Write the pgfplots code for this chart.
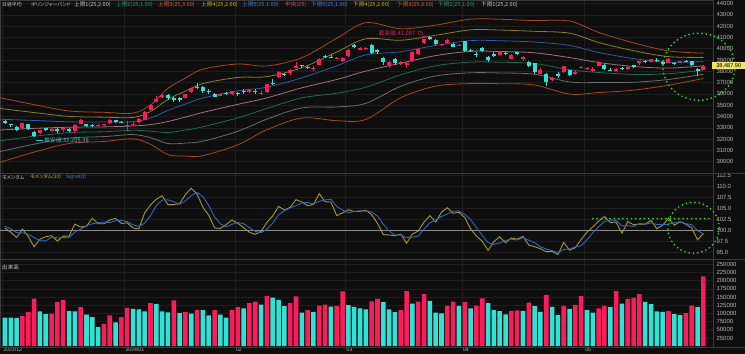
\documentclass[border=0pt]{standalone}
\usepackage{pgfplots}
\pgfplotsset{compat=1.18}
\usepackage{fontspec}
\setmainfont{Liberation Sans}
\newfontfamily\jp[RawFeature=+palt]{Noto Sans CJK JP}
\definecolor{bgc}{HTML}{0E0E0E}
\definecolor{gridc}{HTML}{1E1E1E}
\definecolor{sepc}{HTML}{3A3A3A}
\definecolor{tickc}{HTML}{B4B4B4}
\definecolor{upc}{HTML}{FF1A5A}
\definecolor{dnc}{HTML}{2EE3D6}
\definecolor{bor}{HTML}{A8461C}
\definecolor{bol}{HTML}{8C7E22}
\definecolor{bbl}{HTML}{2C5AA6}
\definecolor{bpk}{HTML}{A86C80}
\definecolor{btl}{HTML}{1D6A52}
\definecolor{bgy}{HTML}{6A6A6E}
\definecolor{momc}{HTML}{A89A22}
\definecolor{sigc}{HTML}{2E66CC}
\definecolor{gdot}{HTML}{22DD22}
\definecolor{tagc}{HTML}{F2E36A}
\definecolor{lgw}{HTML}{C8C8C8}
\definecolor{lgt}{HTML}{1FA07A}
\definecolor{lgo}{HTML}{E0601E}
\definecolor{lgy}{HTML}{C8B42A}
\definecolor{lgb}{HTML}{3C82E6}
\definecolor{lgp}{HTML}{E6466E}
\definecolor{hic}{HTML}{D8245A}
\definecolor{loc}{HTML}{3AB8C0}
\definecolor{hundc}{HTML}{8C8C8C}
\tikzset{
  gdots/.style={gdot, line width=1.9bp, line cap=round, dash pattern=on 0bp off 4.3bp},
  band/.style={line width=0.8bp, smooth, tension=0.55},
  hdr/.style={anchor=west, inner sep=0pt, font=\jp\fontsize{5.6}{6.5}\selectfont},
  hds/.style={anchor=west, inner sep=0pt, font=\jp\fontsize{4.9}{6}\selectfont},
}
\pgfplotsset{
  panel/.style={
    scale only axis, width=713bp,
    xmin=-0.859, xmax=121.65,
    axis background/.style={fill=bgc},
    axis line style={color=sepc, line width=0.7bp},
    xtick={-0.5,20.5,39.5,58.5,78.5,99.5},
    major tick length=0pt,
    xmajorgrids, ymajorgrids,
    major grid style={color=gridc, line width=0.5bp},
    yticklabel pos=right,
    scaled y ticks=false,
    yticklabel style={font=\fontsize{6}{7}\selectfont, text=tickc, anchor=west},
    /pgf/number format/fixed,
    /pgf/number format/assume math mode=true,
    /pgf/number format/1000 sep={},
    unbounded coords=jump,
  },
}
\begin{document}
\begin{tikzpicture}
\useasboundingbox (0,0) rectangle (745bp,354bp);
\fill[bgc] (0,0) rectangle (745bp,354bp);
% ---------------- main price panel
\begin{axis}[panel, at={(0bp,181bp)}, anchor=south west, height=173bp,
  ymin=29000, ymax=44309.7, ytick={30000,31000,...,44000}, xticklabels={}]
\addplot[bor, band] coordinates {(-1,35680)(5,35050)(11,34490)(17,34370)(22,34300)(25,35020)(28,36491)(31,37400)(34,38188)(40,38646)(45,38473)(51,39204)(57,40919)(62,42300)(68,41765)(74,42088)(80,42615)(85,42603)(91,42488)(97,42450)(102,41440)(108,40521)(114,39806)(120,39604)};
\addplot[bol, band] coordinates {(-1,34720)(5,34350)(11,34010)(17,33940)(22,33920)(25,34440)(28,35514)(31,36250)(34,36913)(40,37455)(45,37532)(51,38315)(57,39704)(62,40873)(68,40748)(74,41188)(80,41665)(85,41653)(91,41538)(97,41372)(102,40553)(108,39823)(114,39300)(120,39231)};
\addplot[bbl, band] coordinates {(-1,33760)(5,33650)(11,33530)(17,33510)(22,33540)(25,33860)(28,34537)(31,35100)(34,35638)(40,36264)(45,36591)(51,37426)(57,38489)(62,39446)(68,39731)(74,40288)(80,40715)(85,40703)(91,40588)(97,40294)(102,39666)(108,39125)(114,38794)(120,38858)};
\addplot[bpk, band] coordinates {(-1,32800)(5,32950)(11,33050)(17,33080)(22,33160)(25,33280)(28,33560)(31,33950)(34,34363)(40,35073)(45,35650)(51,36537)(57,37274)(62,38019)(68,38714)(74,39388)(80,39765)(85,39753)(91,39638)(97,39216)(102,38779)(108,38427)(114,38288)(120,38485)};
\addplot[btl, band] coordinates {(-1,31840)(5,32250)(11,32570)(17,32650)(22,32780)(25,32700)(28,32583)(31,32800)(34,33088)(40,33882)(45,34709)(51,35648)(57,36059)(62,36592)(68,37697)(74,38488)(80,38815)(85,38803)(91,38688)(97,38138)(102,37892)(108,37729)(114,37782)(120,38112)};
\addplot[bgy, band] coordinates {(-1,30880)(5,31550)(11,32090)(17,32220)(22,32400)(25,32120)(28,31606)(31,31650)(34,31813)(40,32691)(45,33768)(51,34759)(57,34844)(62,35165)(68,36680)(74,37588)(80,37865)(85,37853)(91,37738)(97,37060)(102,37005)(108,37031)(114,37276)(120,37739)};
\addplot[bor, band] coordinates {(-1,29920)(5,30850)(11,31610)(17,31790)(22,32020)(25,31540)(28,30629)(31,30500)(34,30538)(40,31500)(45,32827)(51,33870)(57,33629)(62,33738)(68,35663)(74,36688)(80,36915)(85,36903)(91,36788)(97,35982)(102,36118)(108,36333)(114,36770)(120,37366)};
% red candles: wicks and bodies
\addplot[upc, line width=0.8bp] coordinates {(3,32900)(3,33450)(3,nan)(6,32450)(6,32820)(6,nan)(8,32700)(8,33000)(8,nan)(10,32650)(10,33000)(10,nan)(12,32500)(12,33300)(12,nan)(13,33300)(13,33750)(13,nan)(16,33150)(16,33300)(16,nan)(17,33200)(17,33350)(17,nan)(18,33380)(18,33750)(18,nan)(21,32690)(21,33570)(21,nan)(22,33200)(22,33500)(22,nan)(23,33450)(23,33900)(23,nan)(24,33650)(24,34500)(24,nan)(25,34550)(25,35100)(25,nan)(26,35250)(26,35850)(26,nan)(27,35600)(27,36000)(27,nan)(31,35600)(31,36000)(31,nan)(32,36100)(32,36550)(32,nan)(37,35800)(37,36100)(37,nan)(39,35900)(39,36300)(39,nan)(42,36100)(42,36450)(42,nan)(44,35900)(44,36250)(44,nan)(45,36100)(45,36900)(45,nan)(47,37400)(47,38000)(47,nan)(49,37700)(49,38200)(49,nan)(50,38300)(50,38800)(50,nan)(53,38000)(53,38500)(53,nan)(54,38550)(54,39150)(54,nan)(57,39100)(57,39300)(57,nan)(58,38850)(58,39250)(58,nan)(59,39300)(59,39990)(59,nan)(61,39850)(61,40150)(61,nan)(62,39900)(62,40150)(62,nan)(66,38300)(66,38900)(66,nan)(68,38600)(68,38900)(68,nan)(69,38300)(69,38800)(69,nan)(70,38850)(70,39800)(70,nan)(71,39450)(71,40050)(71,nan)(72,40400)(72,40820)(72,nan)(75,40200)(75,40450)(75,nan)(76,40450)(76,40900)(76,nan)(78,40200)(78,40450)(78,nan)(85,39400)(85,39800)(85,nan)(87,39050)(87,39500)(87,nan)(89,38950)(89,39350)(89,nan)(92,37750)(92,38250)(92,nan)(94,37100)(94,37500)(94,nan)(96,37850)(96,38500)(96,nan)(98,37700)(98,38000)(98,nan)(99,38250)(99,38500)(99,nan)(100,38100)(100,38400)(100,nan)(101,37900)(101,38400)(101,nan)(102,38500)(102,38900)(102,nan)(105,38000)(105,38300)(105,nan)(107,38150)(107,38450)(107,nan)(109,38600)(109,38950)(109,nan)(111,38800)(111,39100)(111,nan)(114,38700)(114,39150)(114,nan)(116,38700)(116,38950)(116,nan)(120,38100)(120,38520)};
\addplot[upc, line width=4bp] coordinates {(3,32950)(3,33445)(3,nan)(6,32500)(6,32791)(6,nan)(8,32750)(8,32926)(8,nan)(10,32800)(10,32970)(10,nan)(12,32750)(12,33219)(12,nan)(13,33350)(13,33675)(13,nan)(16,33200)(16,33255)(16,nan)(17,33260)(17,33305)(17,nan)(18,33400)(18,33681)(18,nan)(21,33190)(21,33288)(21,nan)(22,33320)(22,33377)(22,nan)(23,33500)(23,33763)(23,nan)(24,33700)(24,34441)(24,nan)(25,34600)(25,35049)(25,nan)(26,35300)(26,35577)(26,nan)(27,35700)(27,35901)(27,nan)(31,35650)(31,35963)(31,nan)(32,36150)(32,36546)(32,nan)(37,35800)(37,36026)(37,nan)(39,35950)(39,36286)(39,nan)(42,36200)(42,36354)(42,nan)(44,36050)(44,36119)(44,nan)(45,36200)(45,36863)(45,nan)(47,37500)(47,37963)(47,nan)(49,37850)(49,38157)(49,nan)(50,38300)(50,38487)(50,nan)(53,38200)(53,38262)(53,nan)(54,38600)(54,39098)(54,nan)(57,39170)(57,39208)(57,nan)(58,38900)(58,39166)(58,nan)(59,39350)(59,39910)(59,nan)(61,39900)(61,40097)(61,nan)(62,39950)(62,40090)(62,nan)(66,38600)(66,38797)(66,nan)(68,38650)(68,38807)(68,nan)(69,38550)(69,38707)(69,nan)(70,38900)(70,39740)(70,nan)(71,39500)(71,40003)(71,nan)(72,40500)(72,40815)(72,nan)(75,40300)(75,40398)(75,nan)(76,40500)(76,40762)(76,nan)(78,40300)(78,40369)(78,nan)(85,39450)(85,39773)(85,nan)(87,39100)(87,39442)(87,nan)(89,39050)(89,39232)(89,nan)(92,37800)(92,38079)(92,nan)(94,37250)(94,37438)(94,nan)(96,37900)(96,38460)(96,nan)(98,37800)(98,37934)(98,nan)(99,38300)(99,38405)(99,nan)(100,38200)(100,38274)(100,nan)(101,38000)(101,38236)(101,nan)(102,38500)(102,38835)(102,nan)(105,38050)(105,38229)(105,nan)(107,38200)(107,38356)(107,nan)(109,38700)(109,38920)(109,nan)(111,38850)(111,39069)(111,nan)(114,38750)(114,39103)(114,nan)(116,38800)(116,38900)(116,nan)(120,38150)(120,38487)};
% cyan candles
\addplot[dnc, line width=0.8bp] coordinates {(0,33350)(0,33680)(0,nan)(1,33060)(1,33330)(1,nan)(2,32700)(2,33120)(2,nan)(4,32800)(4,33380)(4,nan)(5,32205)(5,32700)(5,nan)(7,32700)(7,33000)(7,nan)(9,32500)(9,32950)(9,nan)(11,32600)(11,32950)(11,nan)(14,33100)(14,33350)(14,nan)(15,33050)(15,33300)(15,nan)(19,33450)(19,33700)(19,nan)(20,33400)(20,33600)(20,nan)(28,35500)(28,36000)(28,nan)(29,35300)(29,35700)(29,nan)(30,35300)(30,35700)(30,nan)(33,36400)(33,36980)(33,nan)(34,36050)(34,36700)(34,nan)(35,36000)(35,36400)(35,nan)(36,35700)(36,36100)(36,nan)(38,35900)(38,36200)(38,nan)(40,35800)(40,36150)(40,nan)(41,36000)(41,36400)(41,nan)(43,36000)(43,36400)(43,nan)(46,36800)(46,37300)(46,nan)(48,37600)(48,37850)(48,nan)(51,38300)(51,38600)(51,nan)(52,38200)(52,38500)(52,nan)(55,39150)(55,39400)(55,nan)(56,39150)(56,39400)(56,nan)(60,40100)(60,40400)(60,nan)(63,39550)(63,40450)(63,nan)(64,39500)(64,39950)(64,nan)(65,38600)(65,39300)(65,nan)(67,38550)(67,39150)(67,nan)(73,40800)(73,41088)(73,nan)(74,40300)(74,40850)(74,nan)(77,40150)(77,40500)(77,nan)(79,39750)(79,40700)(79,nan)(80,39750)(80,39950)(80,nan)(81,39300)(81,39700)(81,nan)(82,39700)(82,40150)(82,nan)(83,38800)(83,39350)(83,nan)(84,39300)(84,39700)(84,nan)(86,39450)(86,39700)(86,nan)(88,39450)(88,39750)(88,nan)(90,38350)(90,38900)(90,nan)(91,37800)(91,38750)(91,nan)(93,36733)(93,37850)(93,nan)(95,37450)(95,37900)(95,nan)(97,37550)(97,38150)(97,nan)(103,38150)(103,38650)(103,nan)(104,38000)(104,38250)(104,nan)(106,38100)(106,38400)(106,nan)(108,38300)(108,38600)(108,nan)(110,38700)(110,39000)(110,nan)(112,38850)(112,39150)(112,nan)(113,38550)(113,38900)(113,nan)(115,38550)(115,38800)(115,nan)(117,38800)(117,39000)(117,nan)(118,38500)(118,38950)(118,nan)(119,37617)(119,38300)};
\addplot[dnc, line width=4bp] coordinates {(0,33600)(0,33431)(0,nan)(1,33300)(1,33231)(1,nan)(2,33050)(2,32775)(2,nan)(4,33350)(4,32858)(4,nan)(5,32650)(5,32307)(5,nan)(7,32950)(7,32843)(7,nan)(9,32900)(9,32686)(9,nan)(11,32900)(11,32758)(11,nan)(14,33300)(14,33141)(14,nan)(15,33250)(15,33169)(15,nan)(19,33650)(19,33540)(19,nan)(20,33550)(20,33464)(20,nan)(28,35900)(28,35619)(28,nan)(29,35600)(29,35477)(29,nan)(30,35600)(30,35466)(30,nan)(33,36650)(33,36517)(33,nan)(34,36600)(34,36226)(34,nan)(35,36300)(35,36236)(35,nan)(36,35950)(36,35751)(36,nan)(38,36100)(38,36065)(38,nan)(40,36100)(40,36011)(40,nan)(41,36250)(41,36158)(41,nan)(43,36300)(43,36160)(43,nan)(46,36950)(46,36897)(46,nan)(48,37750)(48,37703)(48,nan)(51,38550)(51,38470)(51,nan)(52,38400)(52,38363)(52,nan)(55,39350)(55,39233)(55,nan)(56,39300)(56,39239)(56,nan)(60,40300)(60,40109)(60,nan)(63,40300)(63,39598)(63,nan)(64,39850)(64,39688)(64,nan)(65,39200)(65,38820)(65,nan)(67,39100)(67,38695)(67,nan)(73,41000)(73,40888)(73,nan)(74,40800)(74,40414)(74,nan)(77,40400)(77,40168)(77,nan)(79,40650)(79,39803)(79,nan)(80,39900)(80,39838)(80,nan)(81,39500)(81,39451)(81,nan)(82,40100)(82,39773)(82,nan)(83,39300)(83,38992)(83,nan)(84,39550)(84,39347)(84,nan)(86,39650)(86,39581)(86,nan)(88,39700)(88,39523)(88,nan)(90,38850)(90,38471)(90,nan)(91,38700)(91,37961)(91,nan)(93,37800)(93,37068)(93,nan)(95,37800)(95,37552)(95,nan)(97,38100)(97,37628)(97,nan)(103,38600)(103,38202)(103,nan)(104,38100)(104,38073)(104,nan)(106,38300)(106,38179)(106,nan)(108,38550)(108,38385)(108,nan)(110,38950)(110,38787)(110,nan)(112,39000)(112,38946)(112,nan)(113,38800)(113,38617)(113,nan)(115,38750)(115,38646)(115,nan)(117,38950)(117,38855)(117,nan)(118,38900)(118,38556)(118,nan)(119,38200)(119,38054)};
% high / low annotations
\draw[hic, line width=0.6bp] (axis cs:71.9,41087.75) -- (axis cs:72.7,41087.75);
\node[anchor=east, inner sep=0pt, font=\jp\fontsize{5.8}{7}\selectfont, text=hic, yshift=2.5bp] at (axis cs:71.9,41087.75) {最高値:41,087.75};
\draw[loc, line width=0.6bp] (axis cs:5.3,31870) -- (axis cs:6.6,31870);
\node[anchor=west, inner sep=0pt, font=\jp\fontsize{5.8}{7}\selectfont, text=loc] at (axis cs:6.7,31870) {最安値:32,205.38};
\coordinate (circA) at (axis cs:119.24,38407);
\coordinate (tag) at (axis cs:121.65,38487.9);
\end{axis}
% ---------------- momentum panel
\begin{axis}[panel, at={(0bp,95bp)}, anchor=south west, height=86bp,
  ymin=93.409, ymax=112.955, ytick={95,97.5,100,102.5,105,107.5,110,112.5}, xticklabels={},
  yticklabel style={/pgf/number format/fixed, /pgf/number format/fixed zerofill, /pgf/number format/precision=1}]
\addplot[hundc, line width=0.6bp] coordinates {(-1,100)(122,100)};
\addplot[momc, line width=0.9bp] coordinates {(0,100.4)(1,99.5)(2,98.3)(3,100.2)(4,98.5)(5,96.2)(6,97.9)(7,98.5)(8,98.7)(9,97.5)(10,98.62)(11,98.58)(12,101.35)(13,100.69)(14,100.86)(15,102.67)(16,101.42)(17,101.41)(18,102.29)(19,102.61)(20,101.50)(21,101.62)(22,100.48)(23,100.26)(24,103.92)(25,105.67)(26,106.98)(27,107.79)(28,105.75)(29,105.78)(30,105.98)(31,108.04)(32,109.49)(33,108.16)(34,105.18)(35,103.39)(36,100.49)(37,100.35)(38,101.25)(39,102.28)(40,101.54)(41,100.54)(42,99.47)(43,99.02)(44,99.70)(45,101.73)(46,103.21)(47,105.38)(48,104.54)(49,105.16)(50,106.88)(51,106.39)(52,105.53)(53,105.81)(54,108.25)(55,106.43)(56,106.35)(57,103.28)(58,103.88)(59,104.59)(60,104.21)(61,104.23)(62,104.50)(63,103.49)(64,101.51)(65,98.95)(66,98.87)(67,98.69)(68,99.08)(69,96.99)(70,99.08)(71,99.77)(72,101.81)(73,103.26)(74,101.83)(75,104.06)(76,105.06)(77,103.81)(78,104.02)(79,102.83)(80,100.25)(81,98.62)(82,97.45)(83,95.36)(84,97.36)(85,98.45)(86,97.10)(87,98.19)(88,97.90)(89,98.57)(90,96.57)(91,96.22)(92,95.74)(93,95.07)(94,95.15)(95,94.42)(96,97.17)(97,95.40)(98,95.98)(99,97.89)(100,99.49)(101,100.72)(102,101.99)(103,103.06)(104,101.70)(105,101.80)(106,99.27)(107,101.93)(108,101.19)(109,101.34)(110,101.34)(111,102.18)(112,100.29)(113,101.09)(114,102.71)(115,101.09)(116,101.89)(117,101.30)(118,100.45)(119,97.77)(120,99.23)};
\addplot[sigc, line width=0.9bp] coordinates {(0,100.8)(1,100.3)(2,99.4)(3,99.33)(4,99.0)(5,98.3)(6,97.53)(7,97.53)(8,98.37)(9,98.23)(10,98.27)(11,98.23)(12,99.52)(13,100.21)(14,100.97)(15,101.41)(16,101.65)(17,101.83)(18,101.71)(19,102.10)(20,102.13)(21,101.91)(22,101.20)(23,100.79)(24,101.55)(25,103.28)(26,105.52)(27,106.81)(28,106.84)(29,106.44)(30,105.84)(31,106.60)(32,107.84)(33,108.56)(34,107.61)(35,105.58)(36,103.02)(37,101.41)(38,100.70)(39,101.29)(40,101.69)(41,101.45)(42,100.52)(43,99.68)(44,99.40)(45,100.15)(46,101.55)(47,103.44)(48,104.38)(49,105.03)(50,105.53)(51,106.14)(52,106.27)(53,105.91)(54,106.53)(55,106.83)(56,107.01)(57,105.35)(58,104.50)(59,103.92)(60,104.23)(61,104.34)(62,104.31)(63,104.07)(64,103.17)(65,101.32)(66,99.78)(67,98.84)(68,98.88)(69,98.25)(70,98.38)(71,98.61)(72,100.22)(73,101.61)(74,102.30)(75,103.05)(76,103.65)(77,104.31)(78,104.30)(79,103.55)(80,102.37)(81,100.57)(82,98.77)(83,97.14)(84,96.72)(85,97.06)(86,97.64)(87,97.91)(88,97.73)(89,98.22)(90,97.68)(91,97.12)(92,96.18)(93,95.68)(94,95.32)(95,94.88)(96,95.58)(97,95.66)(98,96.18)(99,96.42)(100,97.79)(101,99.37)(102,100.73)(103,101.92)(104,102.25)(105,102.19)(106,100.92)(107,101.00)(108,100.80)(109,101.49)(110,101.29)(111,101.62)(112,101.27)(113,101.19)(114,101.36)(115,101.63)(116,101.90)(117,101.43)(118,101.21)(119,99.84)(120,99.15)};
\addplot[gdots] coordinates {(101,102.57)(121.5,102.57)};
\coordinate (circB) at (axis cs:118.3,100.5);
\end{axis}
% ---------------- volume panel
\begin{axis}[panel, at={(0bp,7bp)}, anchor=south west, height=88bp,
  ymin=-2439, ymax=265853, ytick={25000,50000,...,250000},
  xticklabels={2023/12,2024/01,02,03,04,05},
  xticklabel style={font=\fontsize{5.2}{6}\selectfont, text=tickc, anchor=north west, inner sep=1bp}]
\addplot[ybar, bar width=0.78, bar shift=0pt, fill=upc, draw=none] coordinates {(3,92000)(4,104000)(5,145000)(8,99000)(9,135000)(10,141000)(13,119000)(17,68000)(18,94000)(20,89000)(21,117000)(25,131000)(29,140000)(31,104000)(33,111000)(36,110000)(39,111000)(40,119000)(42,131000)(43,136000)(45,153000)(49,131000)(50,152000)(52,110000)(54,124000)(55,127000)(57,122000)(58,167000)(63,137000)(64,144000)(68,110000)(69,168000)(71,136000)(72,159000)(76,123000)(77,136000)(79,134000)(81,124000)(82,146000)(87,108000)(88,109000)(90,133000)(93,156000)(96,122000)(98,126000)(99,153000)(102,115000)(103,122000)(105,168000)(107,144000)(108,147000)(109,159000)(114,107000)(117,101000)(118,124000)(120,213000)};
\addplot[ybar, bar width=0.78, bar shift=0pt, fill=dnc, draw=none] coordinates {(0,87000)(1,87000)(2,86000)(6,106000)(7,98000)(11,107000)(12,106000)(14,96000)(15,89000)(16,58000)(19,73000)(22,114000)(23,112000)(24,106000)(26,129000)(27,106000)(28,103000)(30,101000)(32,99000)(34,110000)(35,94000)(37,96000)(38,87000)(41,115000)(44,127000)(46,148000)(47,141000)(48,122000)(51,102000)(53,105000)(56,121000)(59,125000)(60,120000)(61,115000)(62,112000)(65,134000)(66,112000)(67,104000)(70,130000)(73,138000)(74,102000)(75,100000)(78,123000)(80,115000)(83,131000)(84,110000)(85,107000)(86,97000)(89,108000)(91,122000)(92,105000)(94,120000)(95,95000)(97,114000)(100,110000)(101,102000)(104,119000)(106,130000)(110,135000)(111,128000)(112,106000)(113,105000)(115,98000)(116,95000)(119,119000)};
\end{axis}
% separators
\draw[sepc, line width=0.7bp] (0,181bp) -- (745bp,181bp) (0,95bp) -- (745bp,95bp) (0,7bp) -- (745bp,7bp);
% annotations outside clip
\draw[gdots] (circA) ellipse [x radius=36bp, y radius=33.5bp];
\draw[gdots] (circB) ellipse [x radius=25.7bp, y radius=25.5bp];
\node[fill=tagc, anchor=west, inner xsep=1.5bp, inner ysep=0.6bp, minimum height=7bp, minimum width=33bp, font=\fontsize{5.6}{6}\selectfont, text=black] at ([xshift=-1bp]tag) {38,487.90};
% headers
\node[hds, text=lgw] at (2bp,349.5bp) {日経平均};
\node[hds, text=lgw] at (31bp,349.5bp) {ボリンジャーバンド};
\node[hdr, text=lgw] at (74bp,349.5bp) {上限1(25,2.00)};
\node[hdr, text=lgt] at (116bp,349.5bp) {上限2(25,1.00)};
\node[hdr, text=lgo] at (158bp,349.5bp) {上限3(25,3.00)};
\node[hdr, text=lgy] at (201bp,349.5bp) {上限4(25,2.00)};
\node[hdr, text=lgb] at (242bp,349.5bp) {上限5(25,1.00)};
\node[hdr, text=lgp] at (285bp,349.5bp) {中央(25)};
\node[hdr, text=lgb] at (311bp,349.5bp) {下限5(25,1.00)};
\node[hdr, text=lgy] at (353bp,349.5bp) {下限4(25,2.00)};
\node[hdr, text=lgo] at (397bp,349.5bp) {下限3(25,3.00)};
\node[hdr, text=lgt] at (438bp,349.5bp) {下限2(25,1.00)};
\node[hdr, text=lgw] at (481bp,349.5bp) {下限1(25,2.00)};
\node[hds, text=lgw] at (2bp,176.7bp) {モメンタム};
\node[hds, text=lgy] at (30bp,176.7bp) {モメンタム(10)};
\node[hds, text=lgb] at (66bp,176.7bp) {Signal(3)};
\node[hdr, text=lgw] at (2bp,86.5bp) {出来高};
\end{tikzpicture}
\end{document}
